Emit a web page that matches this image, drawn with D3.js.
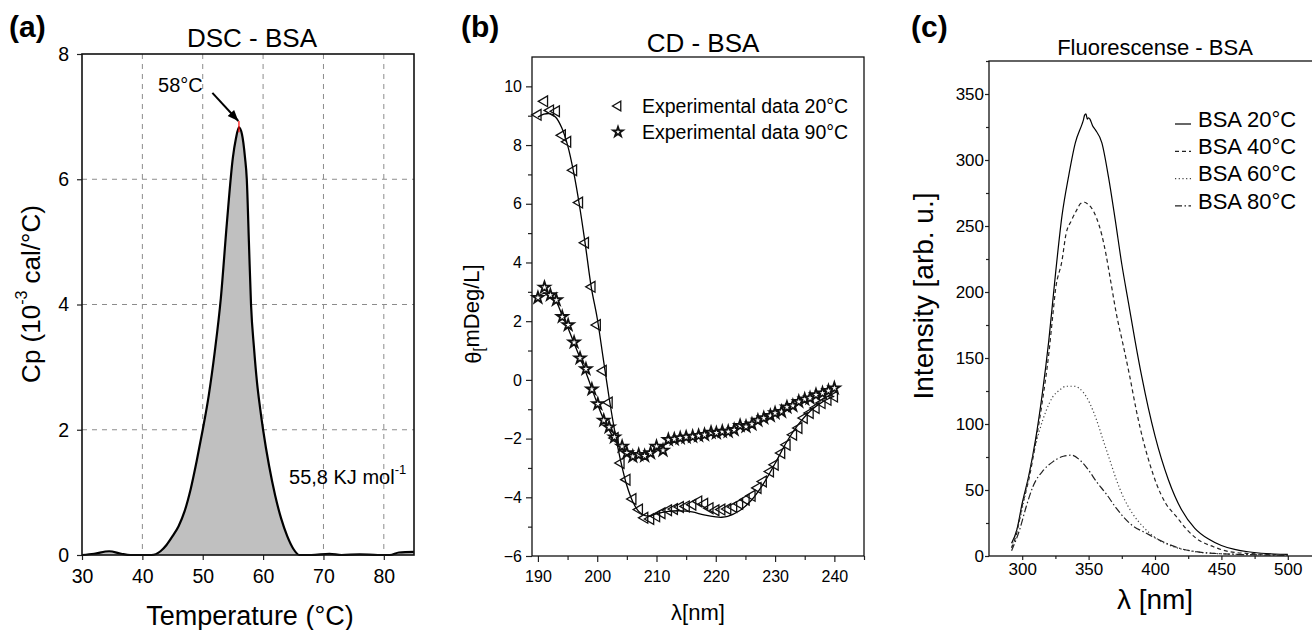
<!DOCTYPE html>
<html>
<head>
<meta charset="utf-8">
<script src="https://cdnjs.cloudflare.com/ajax/libs/d3/7.8.5/d3.min.js"></script>
<style>
body { margin:0; background:#fff; }
svg { font-family: Arial, "Liberation Sans", Helvetica, sans-serif; }
</style>
</head>
<body>
<svg id="chart" width="1312" height="630"></svg>
<script>
// ---- (a) DSC ----
var dscTemp = [30,32,34.5,36.5,38,41.5,43,44,45,46,47,48,49,50,51,52,53,54,55,55.5,56,56.5,57,57.3,57.65,58,58.5,59,59.5,60,61,62,63,64,65,66,68,71,73,76,79,81,82.5,85];
var dscCp = [0,0.02,0.06,0.02,0,0,0.06,0.16,0.3,0.46,0.7,1.05,1.5,2.0,2.55,3.25,4.1,5.3,6.35,6.65,6.83,6.72,6.35,6.0,5.0,4.0,3.3,2.75,2.35,2.0,1.42,0.95,0.58,0.3,0.1,0,0,0.02,0,0.01,0,0,0.04,0.05];
var dscXTicks = [30,40,50,60,70,80];
var dscYTicks = [0,2,4,6,8];
var dscPeak = [56, 6.83];

// ---- (b) CD ----
var cd20Lambda = [190,191.1,192.1,193.1,194.1,195,196,197,198,199.1,200,201,202,203,204,205,206,207.1,208,209,210,210.9,212,213,214,215,216.1,217.1,218.1,219,220,221,222,223,224,225.1,226.1,227.1,228,229.2,230,231.1,232,233.1,234,234.9,235.9,236.9,237.9,238.9,240];
var cd20Theta = [9.03,9.49,9.18,9.15,8.33,8.11,7.14,6.04,4.67,3.17,1.87,0.31,-0.77,-1.98,-2.83,-3.40,-4.06,-4.42,-4.70,-4.74,-4.65,-4.54,-4.44,-4.40,-4.33,-4.31,-4.25,-4.14,-4.22,-4.37,-4.44,-4.42,-4.40,-4.33,-4.22,-4.08,-3.95,-3.68,-3.46,-3.12,-2.89,-2.49,-2.21,-1.87,-1.64,-1.30,-1.13,-0.96,-0.79,-0.68,-0.57];
var cd90Lambda = [190,191.1,192.1,193.1,194.1,195.1,196.1,197.1,198.1,199.1,200.1,201.1,202,202.9,204.2,205,206,207,208,209,210,211.1,212,213,214,215,216.1,217.1,218.1,219.2,220.1,221.1,222.1,223.1,224.1,225.1,226.1,227.1,228.1,229.2,230,231.1,232,233,234,235,235.9,236.9,238,239,240];
var cd90Theta = [2.80,3.15,2.89,2.72,2.15,1.87,1.28,0.74,0.37,-0.32,-0.82,-1.38,-1.61,-1.95,-2.27,-2.49,-2.61,-2.55,-2.59,-2.49,-2.27,-2.40,-2.04,-2.02,-1.98,-1.95,-1.93,-1.90,-1.87,-1.79,-1.81,-1.76,-1.76,-1.70,-1.56,-1.59,-1.51,-1.38,-1.30,-1.22,-1.13,-1.08,-0.93,-0.88,-0.74,-0.66,-0.62,-0.51,-0.45,-0.37,-0.28];
var fit20Lambda = [190,191,192,193,194,195,196,197,198,199,200,201,202,203,204,205,206,207,208,209,210,212,214,216,218,220,221,222,224,226,228,230,232,234,236,238,240];
var fit20Theta = [8.95,9.05,9.07,8.95,8.6,8.0,7.1,5.95,4.6,3.15,2.1,0.75,-0.6,-1.8,-2.8,-3.6,-4.15,-4.48,-4.62,-4.63,-4.56,-4.48,-4.46,-4.5,-4.6,-4.67,-4.68,-4.65,-4.46,-4.1,-3.55,-2.85,-2.1,-1.5,-1.05,-0.75,-0.55];
var fit90Lambda = [190,191,192,193,194,195,196,197,198,199,200,201,202,203,204,205,206,207,208,209,210,212,214,216,218,220,222,224,226,228,230,232,234,236,238,240];
var fit90Theta = [2.85,2.95,2.9,2.7,2.25,1.8,1.3,0.8,0.3,-0.25,-0.8,-1.3,-1.7,-2.05,-2.3,-2.5,-2.6,-2.6,-2.55,-2.45,-2.35,-2.15,-2.0,-1.93,-1.87,-1.8,-1.75,-1.62,-1.5,-1.32,-1.15,-0.95,-0.77,-0.6,-0.45,-0.3];
var cdXTicks = [190,200,210,220,230,240];
var cdYTicks = [-6,-4,-2,0,2,4,6,8,10];
var cdLegend = ["Experimental data 20\u00b0C", "Experimental data 90\u00b0C"];

// ---- (c) Fluorescence ----
var fl20Lambda = [292,296,300,305,310,315,320,325,330,335,340,345,346,347,348,349,350,351,353,355,360,365,370,375,380,385,390,395,400,410,420,430,440,450,460,470,480,490,500];
var fl20Int = [9.6,20,40,61,88,122,163,213,258,288,313,327,330,334,335,331,332,331,326,323,313,287,255,221,192,163,136,112,91,58,35,21,13,8,5,3.2,2.1,1.5,1.2];
var fl40Lambda = [292,296,300,305,310,315,320,323,325,330,333,337,341,344,347,350,352,356,360,363,367,371,376,381,386,391,396,401,408,416,424,431,444,456,469,500];
var fl40Int = [6,18,38,58,85,116,153,182,201,224,244,254,262,267,268,266,264,256,243,229,206,183,160,136,110,88,70,55,40,30,20,13.4,7,3.3,2,0.8];
var fl60Lambda = [292,298,303,308,313,318,323,328,333,339,346,351,356,361,366,371,376,383,391,401,414,426,444,500];
var fl60Int = [7,27,50,75,95,110,120.5,125.6,128.6,128.6,124,115.5,103,87.7,72.6,57.5,45,32.3,22.2,13.4,7,4,2,0.5];
var fl80Lambda = [292,298,303,308,316,323,331,337,343.5,350,356,363,371,381,393.5,406,418.6,431,444,500];
var fl80Int = [4,19.7,37.3,52.4,65,71.3,75.6,76.4,72.6,65,56.2,47.4,36,24.7,17.2,10.8,5.8,3.3,2,0.5];
var flXTicks = [300,350,400,450,500];
var flYTicks = [0,50,100,150,200,250,300,350];
var flLegend = ["BSA 20\u00b0C", "BSA 40\u00b0C", "BSA 60\u00b0C", "BSA 80\u00b0C"];

var svg = d3.select("#chart");

function zip(xs, ys) {
  return xs.map(function(x, i) { return {x: x, y: ys[i]}; });
}

// axis helper: draws bottom + left axes with major (and optional minor) ticks
function drawAxes(g, xScale, yScale, o) {
  var h = yScale.range()[0];
  var xa = g.append("g").attr("transform", "translate(0," + h + ")")
    .call(d3.axisBottom(xScale).tickValues(o.xTicks).tickSize(o.tick).tickSizeOuter(0).tickPadding(o.xPad));
  var ya = g.append("g")
    .call(d3.axisLeft(yScale).tickValues(o.yTicks).tickSize(o.tick).tickSizeOuter(0).tickPadding(o.yPad));
  if (o.xMinor) {
    g.append("g").attr("transform", "translate(0," + h + ")")
      .call(d3.axisBottom(xScale).tickValues(o.xMinor).tickSize(o.minor).tickFormat("").tickSizeOuter(0))
      .select(".domain").remove();
    g.append("g")
      .call(d3.axisLeft(yScale).tickValues(o.yMinor).tickSize(o.minor).tickFormat("").tickSizeOuter(0))
      .select(".domain").remove();
  }
  [xa, ya].forEach(function(a) {
    a.selectAll("text").attr("font-size", o.font).attr("fill", "#000")
      .attr("font-family", "Arial, 'Liberation Sans', sans-serif");
  });
  g.selectAll(".domain").attr("stroke", "none");
  g.selectAll(".tick line").attr("stroke", "#222").attr("stroke-width", 1.2);
  // frame
  g.append("rect")
    .attr("x", 0).attr("y", 0)
    .attr("width", xScale.range()[1]).attr("height", h)
    .attr("fill", "none").attr("stroke", "#111").attr("stroke-width", o.frame);
}

// =========== (a) DSC - BSA ===========
var ma = {left: 82, top: 54, right: 414, bottom: 555};
var ga = svg.append("g").attr("transform", "translate(" + ma.left + "," + ma.top + ")");
var xA = d3.scaleLinear().domain([30, 85]).range([0, ma.right - ma.left]);
var yA = d3.scaleLinear().domain([0, 8]).range([ma.bottom - ma.top, 0]);

// dashed grid
ga.selectAll(".vgrid").data(dscXTicks.slice(1)).enter().append("line")
  .attr("x1", function(d) { return xA(d); }).attr("x2", function(d) { return xA(d); })
  .attr("y1", 0).attr("y2", yA(0))
  .attr("stroke", "#8c8c8c").attr("stroke-dasharray", "5,5").attr("stroke-width", 1);
ga.selectAll(".hgrid").data([2, 4, 6]).enter().append("line")
  .attr("x1", 0).attr("x2", xA(85))
  .attr("y1", function(d) { return yA(d); }).attr("y2", function(d) { return yA(d); })
  .attr("stroke", "#8c8c8c").attr("stroke-dasharray", "5,5").attr("stroke-width", 1);

var dscData = zip(dscTemp, dscCp);
ga.append("path").datum(dscData)
  .attr("fill", "#c0c0c0")
  .attr("d", d3.area().x(function(d) { return xA(d.x); }).y0(yA(0)).y1(function(d) { return yA(d.y); }).curve(d3.curveMonotoneX));
ga.append("path").datum(dscData)
  .attr("fill", "none").attr("stroke", "#000").attr("stroke-width", 2.2)
  .attr("d", d3.line().x(function(d) { return xA(d.x); }).y(function(d) { return yA(d.y); }).curve(d3.curveMonotoneX));

drawAxes(ga, xA, yA, {xTicks: dscXTicks, yTicks: dscYTicks, tick: 5, xPad: 9, yPad: 8, font: "19.5px", frame: 1.6});

// peak marker + arrow
ga.append("line")
  .attr("x1", xA(dscPeak[0])).attr("x2", xA(dscPeak[0]))
  .attr("y1", yA(dscPeak[1] + 0.1)).attr("y2", yA(dscPeak[1] - 0.08))
  .attr("stroke", "red").attr("stroke-width", 1.2);
svg.append("defs").append("marker")
  .attr("id", "arrowhead").attr("viewBox", "0 0 10 10")
  .attr("refX", 10).attr("refY", 5)
  .attr("markerWidth", 5.5).attr("markerHeight", 5.5)
  .attr("orient", "auto")
  .append("path").attr("d", "M0,1 L10,5 L0,9 z").attr("fill", "#000");
ga.append("line")
  .attr("x1", xA(51.6)).attr("y1", yA(7.38))
  .attr("x2", xA(55.9)).attr("y2", yA(6.93))
  .attr("stroke", "#000").attr("stroke-width", 2)
  .attr("marker-end", "url(#arrowhead)");
ga.append("text")
  .attr("x", xA(46.3)).attr("y", yA(7.5)).attr("dy", "0.35em")
  .attr("text-anchor", "middle").attr("font-size", "20px")
  .text("58\u00b0C");
var kj = ga.append("text")
  .attr("x", xA(64.3)).attr("y", yA(1.25)).attr("dy", "0.35em")
  .attr("font-size", "20px");
kj.append("tspan").text("55,8 KJ mol");
kj.append("tspan").attr("font-size", "13px").attr("dy", "-0.75em").text("-1");

svg.append("text").attr("x", 252).attr("y", 47).attr("text-anchor", "middle")
  .attr("font-size", "26px").text("DSC - BSA");
svg.append("text").attr("x", 250).attr("y", 625).attr("text-anchor", "middle")
  .attr("font-size", "27px").text("Temperature (\u00b0C)");
var ylA = svg.append("text")
  .attr("transform", "translate(31,294)rotate(-90)")
  .attr("dy", "0.35em").attr("text-anchor", "middle").attr("font-size", "26px");
ylA.append("tspan").text("Cp (10");
ylA.append("tspan").attr("font-size", "16px").attr("dy", "-0.8em").text("-3");
ylA.append("tspan").attr("dy", "0.5em").text(" cal/\u00b0C)");
svg.append("text").attr("x", 9).attr("y", 37).attr("font-size", "30px")
  .attr("font-weight", "bold").text("(a)");

// =========== (b) CD - BSA ===========
var mb = {left: 532, top: 57, right: 864, bottom: 556};
var gb = svg.append("g").attr("transform", "translate(" + mb.left + "," + mb.top + ")");
var xB = d3.scaleLinear().domain([189, 245]).range([0, mb.right - mb.left]);
var yB = d3.scaleLinear().domain([-6, 11]).range([mb.bottom - mb.top, 0]);

drawAxes(gb, xB, yB, {xTicks: cdXTicks, yTicks: cdYTicks, tick: 6, xPad: 9, yPad: 4, font: "16px", frame: 1.3,
  xMinor: [195, 205, 215, 225, 235, 245], yMinor: [-5, -3, -1, 1, 3, 5, 7, 9], minor: 4});

var lineB = d3.line().x(function(d) { return xB(d.x); }).y(function(d) { return yB(d.y); }).curve(d3.curveCatmullRom);
gb.append("path").datum(zip(fit20Lambda, fit20Theta))
  .attr("fill", "none").attr("stroke", "#000").attr("stroke-width", 1.3).attr("d", lineB);
gb.append("path").datum(zip(fit90Lambda, fit90Theta))
  .attr("fill", "none").attr("stroke", "#000").attr("stroke-width", 1.3).attr("d", lineB);

var triSym = d3.symbol().type(d3.symbolTriangle).size(50);
var starSym = d3.symbol().type(d3.symbolStar).size(38);
gb.selectAll(".tri").data(zip(cd20Lambda, cd20Theta)).enter().append("path")
  .attr("d", triSym)
  .attr("transform", function(d) { return "translate(" + xB(d.x) + "," + yB(d.y) + ")rotate(-90)"; })
  .attr("fill", "none").attr("stroke", "#111").attr("stroke-width", 1.3);
gb.selectAll(".star").data(zip(cd90Lambda, cd90Theta)).enter().append("path")
  .attr("d", starSym)
  .attr("transform", function(d) { return "translate(" + xB(d.x) + "," + yB(d.y) + ")"; })
  .attr("fill", "#fff").attr("stroke", "#111").attr("stroke-width", 1.8);

// legend
var legB = svg.append("g").attr("transform", "translate(618,106)");
legB.append("path").attr("d", d3.symbol().type(d3.symbolTriangle).size(40)).attr("transform", "rotate(-90)")
  .attr("fill", "none").attr("stroke", "#111").attr("stroke-width", 1.3);
legB.append("path").attr("d", d3.symbol().type(d3.symbolStar).size(30)).attr("transform", "translate(0,26)")
  .attr("fill", "#fff").attr("stroke", "#111").attr("stroke-width", 1.8);
legB.selectAll("text").data(cdLegend).enter().append("text")
  .attr("x", 24).attr("y", function(d, i) { return i * 26; }).attr("dy", "0.35em")
  .attr("font-size", "19.5px").text(function(d) { return d; });

svg.append("text").attr("x", 703).attr("y", 52).attr("text-anchor", "middle")
  .attr("font-size", "26px").text("CD - BSA");
svg.append("text").attr("x", 698).attr("y", 620).attr("text-anchor", "middle")
  .attr("font-size", "22px").text("\u03bb[nm]");
var ylB = svg.append("text")
  .attr("transform", "translate(473,314)rotate(-90)")
  .attr("dy", "0.35em").attr("text-anchor", "middle").attr("font-size", "22px");
ylB.append("tspan").text("\u03b8");
ylB.append("tspan").attr("font-size", "14px").attr("dy", "0.25em").text("[");
ylB.append("tspan").attr("dy", "-0.25em").text("mDeg/L]");
svg.append("text").attr("x", 461).attr("y", 37).attr("font-size", "30px")
  .attr("font-weight", "bold").text("(b)");

// =========== (c) Fluorescense - BSA ===========
var mc = {left: 989, top: 61, right: 1321, bottom: 556};
var gc = svg.append("g").attr("transform", "translate(" + mc.left + "," + mc.top + ")");
var xC = d3.scaleLinear().domain([275, 525]).range([0, mc.right - mc.left]);
var yC = d3.scaleLinear().domain([0, 375]).range([mc.bottom - mc.top, 0]);

drawAxes(gc, xC, yC, {xTicks: flXTicks, yTicks: flYTicks, tick: 4, xPad: 3, yPad: 1, font: "17px", frame: 1.3,
  xMinor: [325, 375, 425, 475], yMinor: [25, 75, 125, 175, 225, 275, 325, 375], minor: 3});

var lineC = d3.line().x(function(d) { return xC(d.x); }).y(function(d) { return yC(d.y); }).curve(d3.curveMonotoneX);
var flSeries = [
  {x: fl20Lambda, y: fl20Int, dash: null, color: "#000"},
  {x: fl40Lambda, y: fl40Int, dash: "4,3", color: "#222"},
  {x: fl60Lambda, y: fl60Int, dash: "1.2,2.5", color: "#444"},
  {x: fl80Lambda, y: fl80Int, dash: "7,2.5,1.5,2.5", color: "#222"}
];
flSeries.forEach(function(s) {
  gc.append("path").datum(zip(s.x, s.y))
    .attr("fill", "none").attr("stroke", s.color).attr("stroke-width", 1.2)
    .attr("stroke-dasharray", s.dash).attr("d", lineC);
});

var legC = svg.append("g").attr("transform", "translate(1175,119)");
legC.selectAll("line").data(flSeries).enter().append("line")
  .attr("x1", 0).attr("x2", 16)
  .attr("y1", function(d, i) { return i * 27.3 + 5; }).attr("y2", function(d, i) { return i * 27.3 + 5; })
  .attr("stroke", function(d) { return d.color; }).attr("stroke-width", 1.2)
  .attr("stroke-dasharray", function(d) { return d.dash; });
legC.selectAll("text").data(flLegend).enter().append("text")
  .attr("x", 23).attr("y", function(d, i) { return i * 27.3; }).attr("dy", "0.35em")
  .attr("font-size", "22px").text(function(d) { return d; });

svg.append("text").attr("x", 1155).attr("y", 55).attr("text-anchor", "middle")
  .attr("font-size", "22px").text("Fluorescense - BSA");
svg.append("text").attr("x", 1155).attr("y", 609).attr("text-anchor", "middle")
  .attr("font-size", "28px").text("\u03bb [nm]");
svg.append("text")
  .attr("transform", "translate(923,296)rotate(-90)")
  .attr("dy", "0.35em").attr("text-anchor", "middle").attr("font-size", "28px")
  .text("Intensity [arb. u.]");
svg.append("text").attr("x", 911).attr("y", 37).attr("font-size", "30px")
  .attr("font-weight", "bold").text("(c)");
</script>
</body>
</html>
